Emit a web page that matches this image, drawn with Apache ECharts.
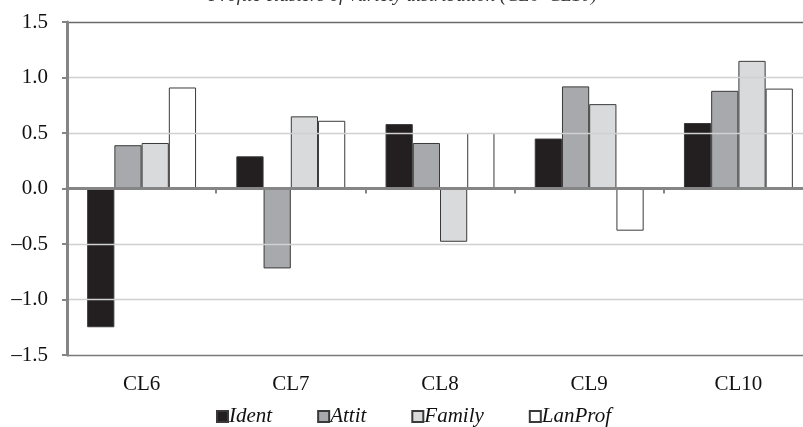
<!DOCTYPE html>
<html><head><meta charset="utf-8">
<script src="https://cdn.jsdelivr.net/npm/echarts@6/dist/echarts.min.js"></script>
<style>html,body{margin:0;padding:0;background:#fff;overflow:hidden;width:803px;height:427px}#c{width:813px;height:427px}</style>
</head><body><div id="c"></div>
<script>
const categories = ['CL6','CL7','CL8','CL9','CL10'];
const seriesNames = ['Ident','Attit','Family','LanProf'];
const ident   = [-1.25, 0.29, 0.58, 0.45, 0.59];
const attit   = [0.39, -0.72, 0.41, 0.92, 0.88];
const family  = [0.41, 0.65, -0.48, 0.76, 1.15];
const lanProf = [0.91, 0.61, 0.50, -0.38, 0.90];
const yTicks = { min: -1.5, max: 1.5, interval: 0.5 };
const titleText = 'Profile clusters of variety distribution (CL6–CL10)';

const fills = ['#231f20','#a7a9ac','#d9dadb','#ffffff'];
const values = [ident, attit, family, lanProf];
const serif = '"Liberation Serif", "Times New Roman", serif';

const chart = echarts.init(document.getElementById('c'));
chart.setOption({
  animation: false,
  title: { text: titleText, left: 398, textAlign: 'center', top: -19,
    textStyle: { fontFamily: serif, fontStyle: 'italic', fontWeight: 'normal', fontSize: 19, color: '#333' } },
  grid: { left: 67, right: 0, top: 22, bottom: 72 },
  legend: {
    top: 401, left: 211, itemWidth: 11, itemHeight: 11, itemGap: 45,
    icon: 'rect',
    textStyle: { fontFamily: serif, fontStyle: 'italic', fontSize: 21, color: '#111', padding: [0,0,0,-4] },
    data: seriesNames
  },
  xAxis: [
    { type: 'category', data: categories, z: 3,
      axisLine: { onZero: true, lineStyle: { color: '#858585', width: 3 } },
      axisTick: { show: true, length: 5, lineStyle: { color: '#858585', width: 2 } },
      axisLabel: { show: false }, splitLine: { show: false } },
    { type: 'category', data: categories, position: 'bottom',
      axisLine: { show: false, onZero: false },
      axisTick: { show: false },
      axisLabel: { fontFamily: serif, fontSize: 21, color: '#111', margin: 19 } }
  ],
  yAxis: {
    type: 'value', min: yTicks.min, max: yTicks.max, interval: yTicks.interval, z: 3,
    axisLine: { show: true, lineStyle: { color: '#858585', width: 3 } },
    axisTick: { show: true, length: 5, lineStyle: { color: '#858585', width: 2 } },
    axisLabel: { fontFamily: serif, fontSize: 21, color: '#111', margin: 19,
      formatter: v => v.toFixed(1).replace('-', '\u2013') },
    splitLine: { lineStyle: { color: ['#7a7a7a','#d0d0d0','#d0d0d0','#d0d0d0','#d0d0d0','#d0d0d0','#6a6a6a'], width: 1.3 } }
  },
  series: seriesNames.map((n, i) => ({
    name: n, type: 'bar', data: values[i], xAxisIndex: 0,
    barGap: '0%', barCategoryGap: '27%',
    itemStyle: { color: fills[i], borderColor: '#3a3a3a', borderWidth: 1 }
  }))
});
</script></body></html>
